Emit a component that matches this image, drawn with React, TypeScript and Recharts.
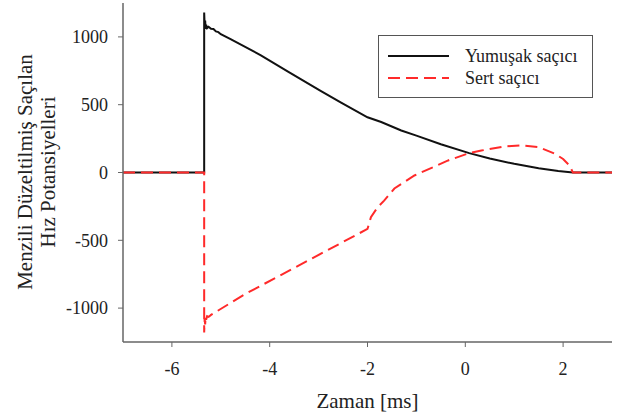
import React from 'react'
import { LineChart, Line, XAxis, YAxis, Legend } from 'recharts'

const softTime = [-7, -5.34, -5.34, -5.33, -5.32, -5.31, -5.3, -5.28, -5.25, -5.2, -5.15, -5.1, -5.05, -5.0, -4.8, -4.18, -3.6, -2.95, -2.54, -2.0, -1.72, -1.31, -1.0, -0.5, 0.08, 0.5, 1.0, 1.5, 1.9, 2.2, 3]
const softValue = [0, 0, 1180, 1080, 1120, 1060, 1090, 1065, 1075, 1060, 1058, 1040, 1035, 1020, 984, 864, 738, 600, 515, 407, 372, 310, 272, 208, 143, 103, 64, 32, 11, 0, 0]

const hardTime = [-7, -5.34, -5.34, -5.33, -5.32, -5.31, -5.3, -5.28, -5.25, -5.2, -4.5, -3.5, -2.5, -2.0, -1.93, -1.8, -1.66, -1.45, -1.04, -0.35, 0.08, 0.33, 0.8, 1.15, 1.5, 1.82, 2.0, 2.13, 2.2, 3]
const hardValue = [0, 0, -1180, -1080, -1120, -1060, -1085, -1060, -1065, -1050, -896, -704, -512, -416, -330, -260, -207, -118, -22, 89, 143, 162, 192, 200, 188, 140, 100, 52, 0, 0]

const seriesNames = ['Yumuşak saçıcı', 'Sert saçıcı']
const xTicks = [-6, -4, -2, 0, 2]
const yTicks = [-1000, -500, 0, 500, 1000]

const softData = softTime.map((t, i) => ({ t, v: softValue[i] }))
const hardData = hardTime.map((t, i) => ({ t, v: hardValue[i] }))

const FONT = "'Liberation Serif', 'DejaVu Serif', serif"
const FRAME = '#666'
const tickStyle = { fill: '#222', fontSize: 18, fontFamily: FONT }

function YLabel() {
  return (
    <g style={{ fontFamily: FONT }} fontSize={21} fill="#222">
      <text x={25} y={172} textAnchor="middle" dominantBaseline="central" transform="rotate(-90 25 172)">
        Menzili Düzeltilmiş Saçılan
      </text>
      <text x={48} y={172} textAnchor="middle" dominantBaseline="central" transform="rotate(-90 48 172)">
        Hız Potansiyelleri
      </text>
    </g>
  )
}

function LegendBox({ payload }: any) {
  const items = [...(payload || [])].sort((a: any, b: any) => seriesNames.indexOf(a.value) - seriesNames.indexOf(b.value))
  return (
    <div style={{ width: 215, height: 63, boxSizing: 'border-box', border: '1px solid #555', background: '#fff', paddingTop: 9, paddingLeft: 9, fontFamily: FONT, fontSize: 18, color: '#222' }}>
      {items.map((p: any) => (
        <div key={p.value} style={{ display: 'flex', alignItems: 'center', height: 22 }}>
          <svg width={61} height={22} style={{ marginRight: 16 }}>
            <line x1={0} y1={11} x2={61} y2={11} stroke={p.color} strokeWidth={2} strokeDasharray={p.payload?.strokeDasharray} />
          </svg>
          <span style={{ lineHeight: '22px' }}>{p.value}</span>
        </div>
      ))}
    </div>
  )
}

export default function App() {
  return (
    <div style={{ position: 'absolute', left: 0, top: 0, width: 630, height: 416, background: '#fff', fontFamily: FONT }}>
      <LineChart width={630} height={416} margin={{ top: 3, right: 18, bottom: 0, left: 0 }} style={{ fontFamily: FONT }}>
        <XAxis
          dataKey="t"
          type="number"
          domain={[-7, 3]}
          ticks={xTicks}
          allowDuplicatedCategory={false}
          height={74}
          tickSize={5}
          tickMargin={15}
          tick={tickStyle}
          stroke={FRAME}
          axisLine={{ stroke: FRAME, strokeWidth: 1.5 }}
          tickLine={{ stroke: FRAME }}
          label={{ value: 'Zaman [ms]', position: 'insideBottom', offset: 8, fontSize: 21, fontFamily: FONT, fill: '#222' }}
        />
        <XAxis xAxisId="top" orientation="top" type="number" dataKey="t" domain={[-7, 3]} height={0} tick={false} tickLine={false} axisLine={{ stroke: FRAME, strokeWidth: 1.5 }} />
        <YAxis
          type="number"
          domain={[-1250, 1250]}
          ticks={yTicks}
          width={123}
          tickSize={5}
          tickMargin={10}
          tick={tickStyle}
          axisLine={{ stroke: FRAME, strokeWidth: 1.5 }}
          tickLine={{ stroke: FRAME }}
          label={{ content: () => <YLabel /> }}
        />
        <YAxis yAxisId="right" orientation="right" type="number" domain={[-1250, 1250]} width={0} tick={false} tickLine={false} axisLine={{ stroke: FRAME, strokeWidth: 1.5 }} />
        <Legend
          layout="horizontal"
          verticalAlign="middle"
          align="center"
          wrapperStyle={{ left: 378, top: 35, width: 215, height: 63 }}
          content={<LegendBox />}
        />
        <Line data={softData} dataKey="v" name={seriesNames[0]} type="linear" stroke="#111" strokeWidth={2} dot={false} isAnimationActive={false} />
        <Line data={hardData} dataKey="v" name={seriesNames[1]} type="linear" stroke="#ff2a2a" strokeWidth={2} strokeDasharray="12 6" dot={false} isAnimationActive={false} />
      </LineChart>
    </div>
  )
}
